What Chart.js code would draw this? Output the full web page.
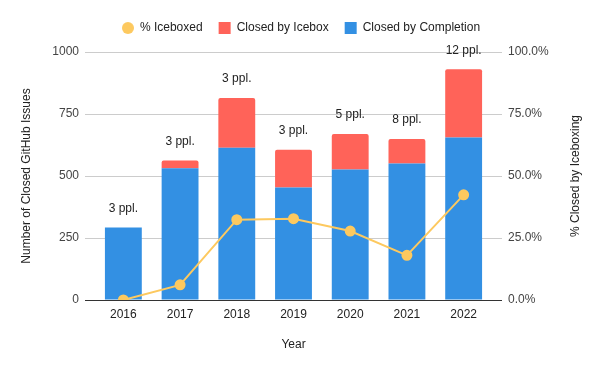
<!DOCTYPE html>
<html>
<head>
<meta charset="utf-8">
<script src="https://cdn.jsdelivr.net/npm/chart.js@4/dist/chart.umd.min.js"></script>
<style>
  html, body { margin: 0; padding: 0; background: #fff; }
  #wrap { width: 600px; height: 371px; }
</style>
</head>
<body>
<div id="wrap"><canvas id="c" width="600" height="371"></canvas></div>
<script>
const years = ['2016', '2017', '2018', '2019', '2020', '2021', '2022'];
const closedByCompletion = [292, 531, 614, 454, 526, 550, 655];
const closedByIcebox = [0, 31, 201, 152, 143, 99, 275];
const pctIceboxed = [0.0, 0.061, 0.324, 0.328, 0.278, 0.18, 0.424];
const peopleLabels = ['3 ppl.', '3 ppl.', '3 ppl.', '3 ppl.', '5 ppl.', '8 ppl.', '12 ppl.'];
const leftTicks = [0, 250, 500, 750, 1000];
const rightTicks = [0, 0.25, 0.5, 0.75, 1.0];

const FONT = 'Liberation Sans, Arial, sans-serif';
Chart.defaults.font.family = FONT;
Chart.defaults.font.size = 12;
Chart.defaults.color = '#444';

const YELLOW = '#FDC95F', RED = '#FF6359', BLUE = '#3390E3';

// small circle image for legend marker
const dot = document.createElement('canvas');
dot.width = 12; dot.height = 12;
(function () {
  const g = dot.getContext('2d');
  g.fillStyle = YELLOW;
  g.beginPath(); g.arc(6, 6, 6, 0, Math.PI * 2); g.fill();
})();

const pplPlugin = {
  id: 'ppl',
  afterInit(chart) {
    const lg = chart.legend;
    if (lg) {
      const orig = lg.fit.bind(lg);
      lg.fit = function () { orig(); this.height += 8; };
    }
  },
  afterDatasetsDraw(chart) {
    const ctx = chart.ctx;
    const top = chart.getDatasetMeta(1);
    const bottom = chart.getDatasetMeta(2);
    ctx.save();
    ctx.font = '12px ' + FONT;
    ctx.fillStyle = '#222';
    ctx.textAlign = 'center';
    ctx.textBaseline = 'middle';
    peopleLabels.forEach((t, i) => {
      const a = top.data[i], b = bottom.data[i];
      const y = Math.min(a.y, b.y);
      ctx.fillText(t, b.x, y - 19);
    });
    ctx.restore();
  },
  afterDraw(chart) {
    const ctx = chart.ctx;
    const ca = chart.chartArea;
    ctx.save();
    ctx.font = '12px ' + FONT;
    ctx.fillStyle = '#222';
    ctx.textAlign = 'center';
    ctx.textBaseline = 'middle';
    ctx.translate(576, (ca.top + ca.bottom) / 2);
    ctx.rotate(-Math.PI / 2);
    ctx.fillText('% Closed by Iceboxing', 0, 0);
    ctx.restore();
  }
};

new Chart(document.getElementById('c'), {
  data: {
    labels: years,
    datasets: [
      {
        type: 'line', label: '% Iceboxed', data: pctIceboxed, yAxisID: 'y1', order: 0,
        borderColor: YELLOW, backgroundColor: YELLOW, borderWidth: 2,
        pointRadius: 4.5, pointHoverRadius: 4.5, pointStyle: 'circle', tension: 0
      },
      {
        type: 'bar', label: 'Closed by Icebox', data: closedByIcebox, yAxisID: 'y', order: 2,
        backgroundColor: RED, pointStyle: 'rect', stack: 's',
        barPercentage: 0.65, categoryPercentage: 1.0,
        borderRadius: {topLeft: 2, topRight: 2, bottomLeft: 0, bottomRight: 0}, borderSkipped: false
      },
      {
        type: 'bar', label: 'Closed by Completion', data: closedByCompletion, yAxisID: 'y', order: 1,
        backgroundColor: BLUE, pointStyle: 'rect', stack: 's',
        barPercentage: 0.65, categoryPercentage: 1.0
      }
    ]
  },
  options: {
    responsive: false,
    animation: false,
    layout: { padding: { left: 15, right: 13, top: 6, bottom: 15 } },
    plugins: {
      legend: {
        position: 'top',
        labels: {
          usePointStyle: true, boxWidth: 12, boxHeight: 12, padding: 16,
          color: '#222', font: { size: 12 },
          sort: (a, b) => a.datasetIndex - b.datasetIndex,
          generateLabels(chart) {
            const items = Chart.defaults.plugins.legend.labels.generateLabels(chart);
            items.forEach(it => { if (it.datasetIndex === 0) { it.pointStyle = dot; it.lineWidth = 0; } });
            return items;
          }
        }
      },
      tooltip: { enabled: false }
    },
    scales: {
      x: {
        stacked: true,
        grid: { display: false, drawTicks: false, tickLength: 0 },
        border: { display: false },
        ticks: { color: '#222', padding: 7 },
        title: { display: true, text: 'Year', color: '#222', padding: 4 },
        afterFit(s) { s.height = 56; }
      },
      y: {
        stacked: true, position: 'left', min: 0, max: 1000,
        afterBuildTicks(s) { s.ticks = leftTicks.map(v => ({ value: v })); },
        grid: {
          color: c => (c.tick && c.tick.value === 0) ? '#333' : '#ccc',
          tickLength: 10, drawTicks: true
        },
        border: { display: false },
        ticks: { color: '#444', padding: 6, callback: v => String(v) },
        title: { display: true, text: 'Number of Closed GitHub Issues', color: '#222', padding: 4 },
        afterFit(s) { s.width = 80; }
      },
      y1: {
        position: 'right', min: 0, max: 1,
        afterBuildTicks(s) { s.ticks = rightTicks.map(v => ({ value: v })); },
        grid: {
          drawOnChartArea: false,
          color: c => (c.tick && c.tick.value === 0) ? '#333' : '#ccc',
          tickLength: 10, drawTicks: true
        },
        border: { display: false },
        ticks: { color: '#444', padding: 6, callback: v => (v * 100).toFixed(1) + '%' },
        title: { display: false },
        afterFit(s) { s.width = 95; }
      }
    }
  },
  plugins: [pplPlugin]
});
</script>
</body>
</html>
